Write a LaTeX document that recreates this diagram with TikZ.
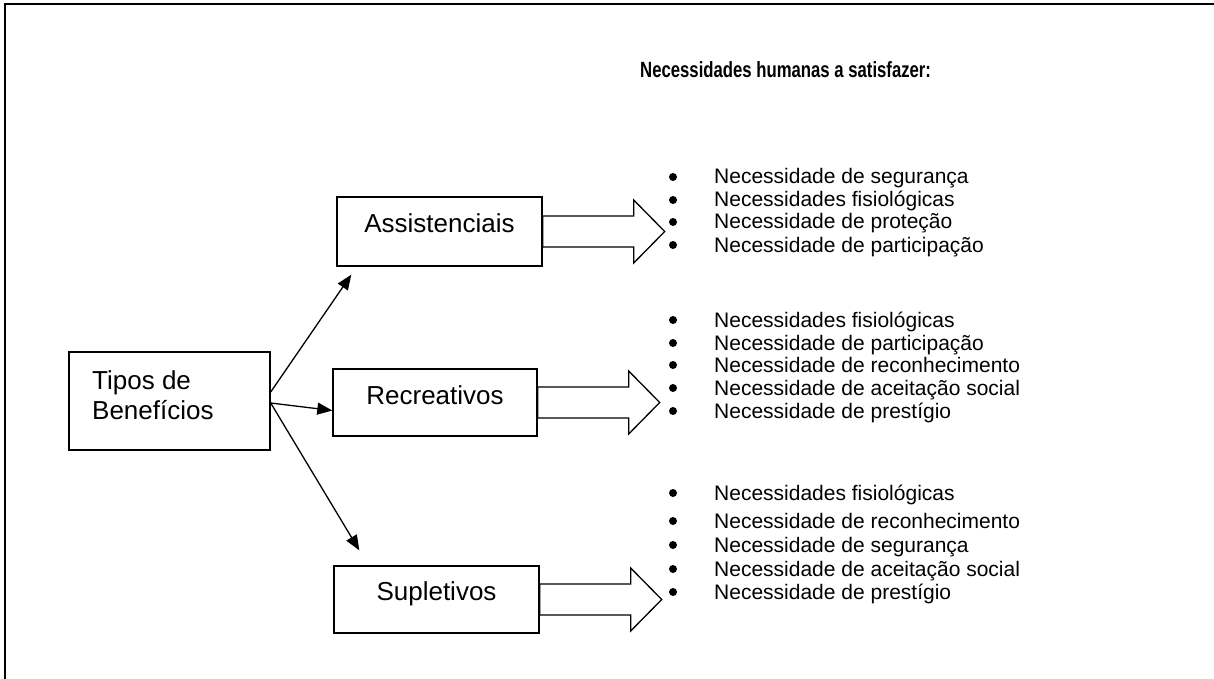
\documentclass[tikz,border=0pt]{standalone}
\usepackage{fontspec}
\setmainfont{Liberation Sans}
\usetikzlibrary{arrows.meta,calc}

\tikzset{
  box/.style={draw, line width=1.4bp, fill=white, inner sep=0pt},
  boxlabel/.style={inner sep=0pt, anchor=base, font=\fontsize{26bp}{30bp}\selectfont},
  itemtext/.style={inner sep=0pt, anchor=base west, font=\fontsize{21bp}{23bp}\selectfont},
  titletext/.style={inner sep=0pt, anchor=base west, font=\bfseries\fontsize{22bp}{24bp}\selectfont},
  link/.style={line width=1.3bp, -{Triangle[length=15bp,width=12bp]}},
  fat/.style={draw, line width=1.3bp, fill=white, line join=miter},
}

% hollow block arrow leaving the east side of a box
\newcommand\fatarrow[1]{%
  \draw[fat] ($(#1.east)+(0,-15.5)$) -- ++(91,0) -- ++(0,-16) -- ++(31,31.5)
    -- ++(-31,31.5) -- ++(0,-16) -- ++(-91,0) -- cycle;}

\begin{document}
\begin{tikzpicture}[x=1bp,y=-1bp]
\useasboundingbox (0,0) rectangle (1214,679);

% frame
\draw[line width=2bp] (1214,4) -- (5,4) -- (5,679);

% title (narrow bold)
\node[titletext] (title) at (640,78) {\scalebox{0.76}[1]{Necessidades humanas a satisfazer:}};

% source box
\node[box, minimum width=201bp, minimum height=98bp] (tipos) at (169.5,401) {};
\node[inner sep=0pt, anchor=base west, align=left,
      font=\fontsize{26bp}{30bp}\selectfont] (tiposlbl) at (92,419) {Tipos de\\Benefícios};

% benefit boxes
\node[box, minimum width=205bp, minimum height=69bp] (assist) at (439.5,231.5) {};
\node[boxlabel] (assistlbl) at ($(assist.north)+(0,36)$) {Assistenciais};

\node[box, minimum width=204bp, minimum height=67bp] (recre) at (435,402.5) {};
\node[boxlabel] (recrelbl) at ($(recre.north)+(0,36)$) {Recreativos};

\node[box, minimum width=205bp, minimum height=67bp] (suple) at (436.5,599.5) {};
\node[boxlabel] (suplelbl) at ($(suple.north)+(0,35)$) {Supletivos};

% connectors from the source box
\coordinate (s1) at ($(tipos.east)+(0,-9)$);
\coordinate (s2) at ($(tipos.east)+(0,2)$);
\coordinate (e1) at ($(assist.south west)+(15,8)$);
\coordinate (e3) at ($(suple.north west)+(26,-15)$);
\draw[link] (s1) -- (e1);
\draw[link] (s2) -- ($(recre.west)+(0,8)$);
\draw[link] (s2) -- (e3);

% block arrows
\fatarrow{assist}
\fatarrow{recre}
\fatarrow{suple}

% bulleted lists
\foreach \yy/\tt [count=\i] in {
  184/Necessidade de segurança,
  207/Necessidades fisiológicas,
  229/Necessidade de proteção,
  252/Necessidade de participação,
  327/Necessidades fisiológicas,
  350/Necessidade de participação,
  372/Necessidade de reconhecimento,
  395/Necessidade de aceitação social,
  418/Necessidade de prestígio,
  500/Necessidades fisiológicas,
  528/Necessidade de reconhecimento,
  552/Necessidade de segurança,
  576/Necessidade de aceitação social,
  599/Necessidade de prestígio}{
  \fill (673,\yy-7) circle (4);
  \node[itemtext] (item\i) at (714,\yy) {\tt};
}
\end{tikzpicture}
\end{document}
